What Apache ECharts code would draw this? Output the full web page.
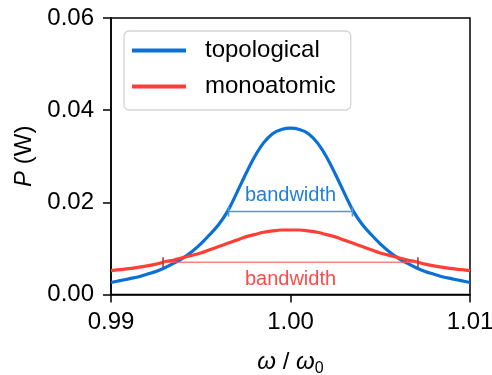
<!DOCTYPE html>
<html>
<head>
<meta charset="utf-8">
<script src="https://cdn.jsdelivr.net/npm/echarts@6/dist/echarts.min.js"></script>
<style>
  html, body { margin: 0; padding: 0; background: #fff; }
  #chart { width: 492px; height: 375px; }
</style>
</head>
<body>
<div id="chart"></div>
<script>
// Normalised frequency samples
const omega = [
  0.9900, 0.9905, 0.9910, 0.9915, 0.9920, 0.9925, 0.9930, 0.9935, 0.9940, 0.9945,
  0.9950, 0.9955, 0.9960, 0.9965, 0.9970, 0.9975, 0.9980, 0.9985, 0.9990, 0.9995,
  1.0000,
  1.0005, 1.0010, 1.0015, 1.0020, 1.0025, 1.0030, 1.0035, 1.0040, 1.0045, 1.0050,
  1.0055, 1.0060, 1.0065, 1.0070, 1.0075, 1.0080, 1.0085, 1.0090, 1.0095, 1.0100
];

// Output power (W)
const topological = [
  0.0026, 0.0030, 0.0034, 0.0038, 0.0044, 0.0050, 0.0058, 0.0068, 0.0079, 0.0093,
  0.0110, 0.0130, 0.0152, 0.0181, 0.0220, 0.0261, 0.0299, 0.0329, 0.0349, 0.0358,
  0.0361,
  0.0358, 0.0349, 0.0329, 0.0299, 0.0261, 0.0220, 0.0181, 0.0152, 0.0130, 0.0110,
  0.0093, 0.0079, 0.0068, 0.0058, 0.0050, 0.0044, 0.0038, 0.0034, 0.0030, 0.0026
];

const monoatomic = [
  0.0052, 0.0054, 0.0056, 0.0059, 0.0062, 0.0066, 0.0071, 0.0075, 0.0080, 0.0085,
  0.0090, 0.0097, 0.0104, 0.0111, 0.0118, 0.0125, 0.0130, 0.0135, 0.0138, 0.0140,
  0.0140,
  0.0140, 0.0138, 0.0135, 0.0130, 0.0125, 0.0118, 0.0111, 0.0104, 0.0097, 0.0090,
  0.0085, 0.0080, 0.0075, 0.0071, 0.0066, 0.0062, 0.0059, 0.0056, 0.0054, 0.0052
];

// Bandwidth markers: [low edge, high edge, power level]
const topoBand = [0.99655, 1.00345, 0.0180];
const monoBand = [0.99290, 1.00710, 0.0070];

const xTicks = [0.99, 1.00, 1.01];
const yTicks = [0.00, 0.02, 0.04, 0.06];

const BLUE = '#0a70d6';
const RED = '#ff3f36';
const FONT = 'Liberation Sans, Arial, Helvetica, sans-serif';
const FS = 24;

const zip = (xs, ys) => xs.map((x, i) => [x, ys[i]]);

const bandSeries = (band, color, capColor, labelColor, pos) => ({
  type: 'line',
  data: [[band[0], band[2]], [band[1], band[2]]],
  symbol: 'rect',
  symbolSize: [1.6, 10],
  itemStyle: { color: capColor },
  lineStyle: { color: color, width: 1.6 },
  silent: true,
  z: 4,
  markPoint: {
    symbol: 'circle',
    symbolSize: 0,
    data: [{ coord: [(band[0] + band[1]) / 2, band[2]] }],
    label: {
      show: true,
      formatter: 'bandwidth',
      position: pos,
      distance: pos === 'top' ? 6 : 7,
      color: labelColor,
      fontFamily: FONT,
      fontSize: 20
    }
  }
});

const chart = echarts.init(document.getElementById('chart'), null, { renderer: 'canvas' });

chart.setOption({
  backgroundColor: '#fff',
  animation: false,
  grid: {
    left: 111, right: 22, top: 18, bottom: 80.5,
    outerBoundsMode: 'none',
    containLabel: false,
    show: true, borderColor: '#000', borderWidth: 1.5, backgroundColor: 'transparent'
  },
  legend: {
    orient: 'vertical',
    left: 124, top: 31,
    padding: [6, 15, 10, 8],
    itemGap: 9,
    itemWidth: 54,
    itemHeight: 4,
    icon: 'rect',
    borderColor: '#d4d4d4',
    borderWidth: 1.3,
    borderRadius: 5,
    backgroundColor: 'rgba(255,255,255,0.85)',
    textStyle: { fontFamily: FONT, fontSize: FS, color: '#000', lineHeight: 27, padding: [0, 0, 0, 14] },
    data: ['topological', 'monoatomic']
  },
  xAxis: {
    type: 'value',
    min: 0.99, max: 1.01, interval: 0.01,
    name: '{i|ω} / {i|ω}{s|0}',
    nameLocation: 'middle',
    nameGap: 54,
    nameTextStyle: {
      fontFamily: FONT, fontSize: FS, color: '#000',
      rich: {
        i: { fontFamily: FONT, fontSize: FS, fontStyle: 'italic', color: '#000' },
        s: { fontFamily: FONT, fontSize: 16, color: '#000', padding: [12, 0, 0, 0] }
      }
    },
    axisLine: { lineStyle: { color: '#000', width: 1.5 } },
    axisTick: { show: true, inside: false, length: 8, lineStyle: { color: '#000', width: 1.5 } },
    axisLabel: {
      margin: 16, fontFamily: FONT, fontSize: FS, color: '#000',
      formatter: v => v.toFixed(2),
      customValues: xTicks
    },
    splitLine: { show: false }
  },
  yAxis: {
    type: 'value',
    min: 0, max: 0.06, interval: 0.02,
    name: '{i|P} (W)',
    nameLocation: 'middle',
    nameGap: 75,
    nameRotate: 90,
    nameTextStyle: {
      fontFamily: FONT, fontSize: FS, color: '#000',
      rich: { i: { fontFamily: FONT, fontSize: FS, fontStyle: 'italic', color: '#000' } }
    },
    axisLine: { show: true, lineStyle: { color: '#000', width: 1.5 } },
    axisTick: { show: true, inside: false, length: 8, lineStyle: { color: '#000', width: 1.5 } },
    axisLabel: {
      margin: 17, fontFamily: FONT, fontSize: FS, color: '#000',
      formatter: v => v.toFixed(2),
      customValues: yTicks
    },
    splitLine: { show: false }
  },
  series: [
    {
      name: 'topological', type: 'line',
      data: zip(omega, topological),
      smooth: 0.4, showSymbol: false, symbol: 'none',
      lineStyle: { color: BLUE, width: 3.2 },
      itemStyle: { color: BLUE },
      z: 3
    },
    {
      name: 'monoatomic', type: 'line',
      data: zip(omega, monoatomic),
      smooth: 0.4, showSymbol: false, symbol: 'none',
      lineStyle: { color: RED, width: 3.2 },
      itemStyle: { color: RED },
      z: 3
    },
    bandSeries(topoBand, '#4a97e4', '#4a97e4', '#1f80e0', 'top'),
    bandSeries(monoBand, 'rgba(255,90,90,0.75)', '#b03a3a', '#ff4a4a', 'bottom')
  ]
});
</script>
</body>
</html>
